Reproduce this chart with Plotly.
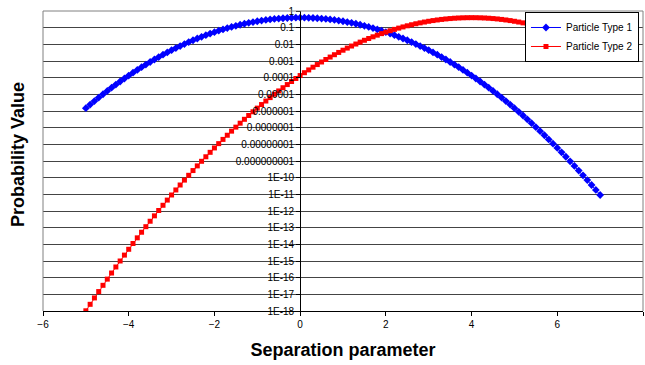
import plotly.graph_objects as go

x_vals = [
    -5.0, -4.9, -4.8, -4.7, -4.6, -4.5, -4.4, -4.3, -4.2, -4.1,
    -4.0, -3.9, -3.8, -3.7, -3.6, -3.5, -3.4, -3.3, -3.2, -3.1,
    -3.0, -2.9, -2.8, -2.7, -2.6, -2.5, -2.4, -2.3, -2.2, -2.1,
    -2.0, -1.9, -1.8, -1.7, -1.6, -1.5, -1.4, -1.3, -1.2, -1.1,
    -1.0, -0.9, -0.8, -0.7, -0.6, -0.5, -0.4, -0.3, -0.2, -0.1,
    0.0,
    0.1, 0.2, 0.3, 0.4, 0.5, 0.6, 0.7, 0.8, 0.9, 1.0,
    1.1, 1.2, 1.3, 1.4, 1.5, 1.6, 1.7, 1.8, 1.9, 2.0,
    2.1, 2.2, 2.3, 2.4, 2.5, 2.6, 2.7, 2.8, 2.9, 3.0,
    3.1, 3.2, 3.3, 3.4, 3.5, 3.6, 3.7, 3.8, 3.9, 4.0,
    4.1, 4.2, 4.3, 4.4, 4.5, 4.6, 4.7, 4.8, 4.9, 5.0,
    5.1, 5.2, 5.3, 5.4, 5.5, 5.6, 5.7, 5.8, 5.9, 6.0,
    6.1, 6.2, 6.3, 6.4, 6.5, 6.6, 6.7, 6.8, 6.9, 7.0,
]

type1_vals = [
    1.487e-6, 2.439e-6, 3.961e-6, 6.370e-6, 1.014e-5, 1.598e-5, 2.494e-5, 3.853e-5, 5.894e-5, 8.926e-5,
    1.338e-4, 1.987e-4, 2.919e-4, 4.248e-4, 6.119e-4, 8.727e-4, 1.232e-3, 1.723e-3, 2.384e-3, 3.267e-3,
    4.432e-3, 5.953e-3, 7.915e-3, 0.01042, 0.01358, 0.01753, 0.02239, 0.02833, 0.03547, 0.04398,
    0.05399, 0.06562, 0.07895, 0.09405, 0.1109, 0.1295, 0.1497, 0.1714, 0.1942, 0.2179,
    0.2420, 0.2661, 0.2897, 0.3123, 0.3332, 0.3521, 0.3683, 0.3814, 0.3910, 0.3970,
    0.3989,
    0.3970, 0.3910, 0.3814, 0.3683, 0.3521, 0.3332, 0.3123, 0.2897, 0.2661, 0.2420,
    0.2179, 0.1942, 0.1714, 0.1497, 0.1295, 0.1109, 0.09405, 0.07895, 0.06562, 0.05399,
    0.04398, 0.03547, 0.02833, 0.02239, 0.01753, 0.01358, 0.01042, 7.915e-3, 5.953e-3, 4.432e-3,
    3.267e-3, 2.384e-3, 1.723e-3, 1.232e-3, 8.727e-4, 6.119e-4, 4.248e-4, 2.919e-4, 1.987e-4, 1.338e-4,
    8.926e-5, 5.894e-5, 3.853e-5, 2.494e-5, 1.598e-5, 1.014e-5, 6.370e-6, 3.961e-6, 2.439e-6, 1.487e-6,
    8.972e-7, 5.361e-7, 3.172e-7, 1.857e-7, 1.077e-7, 6.182e-8, 3.513e-8, 1.977e-8, 1.102e-8, 6.076e-9,
    3.318e-9, 1.794e-9, 9.601e-10, 5.088e-10, 2.670e-10, 1.387e-10, 7.132e-11, 3.631e-11, 1.830e-11, 9.135e-12,
]

type2_vals = [
    1.028e-18, 2.516e-18, 6.096e-18, 1.463e-17, 3.473e-17, 8.167e-17, 1.901e-16, 4.382e-16, 9.998e-16, 2.259e-15,
    5.052e-15, 1.119e-14, 2.453e-14, 5.324e-14, 1.144e-13, 2.434e-13, 5.128e-13, 1.069e-12, 2.208e-12, 4.515e-12,
    9.135e-12, 1.830e-11, 3.631e-11, 7.132e-11, 1.387e-10, 2.670e-10, 5.088e-10, 9.601e-10, 1.794e-9, 3.318e-9,
    6.076e-9, 1.102e-8, 1.977e-8, 3.513e-8, 6.182e-8, 1.077e-7, 1.857e-7, 3.172e-7, 5.361e-7, 8.972e-7,
    1.487e-6, 2.439e-6, 3.961e-6, 6.370e-6, 1.014e-5, 1.598e-5, 2.494e-5, 3.853e-5, 5.894e-5, 8.926e-5,
    1.338e-4, 1.987e-4, 2.919e-4, 4.248e-4, 6.119e-4, 8.727e-4, 1.232e-3, 1.723e-3, 2.384e-3, 3.267e-3,
    4.432e-3, 5.953e-3, 7.915e-3, 0.01042, 0.01358, 0.01753, 0.02239, 0.02833, 0.03547, 0.04398,
    0.05399, 0.06562, 0.07895, 0.09405, 0.1109, 0.1295, 0.1497, 0.1714, 0.1942, 0.2179,
    0.2420, 0.2661, 0.2897, 0.3123, 0.3332, 0.3521, 0.3683, 0.3814, 0.3910, 0.3970,
    0.3989,
    0.3970, 0.3910, 0.3814, 0.3683, 0.3521, 0.3332, 0.3123, 0.2897, 0.2661, 0.2420,
    0.2179, 0.1942, 0.1714, 0.1497, 0.1295, 0.1109, 0.09405, 0.07895, 0.06562, 0.05399,
    0.04398, 0.03547, 0.02833, 0.02239, 0.01753, 0.01358, 0.01042, 7.915e-3, 5.953e-3, 4.432e-3,
]

y_tick_vals = [1, 0.1, 0.01, 0.001, 1e-4, 1e-5, 1e-6, 1e-7, 1e-8, 1e-9,
               1e-10, 1e-11, 1e-12, 1e-13, 1e-14, 1e-15, 1e-16, 1e-17, 1e-18]
y_tick_text = ["1", "0.1", "0.01", "0.001", "0.0001", "0.00001", "0.000001",
               "0.0000001", "0.00000001", "0.000000001", "1E-10", "1E-11",
               "1E-12", "1E-13", "1E-14", "1E-15", "1E-16", "1E-17", "1E-18"]
x_tick_vals = [-6, -4, -2, 0, 2, 4, 6, 8]

FONT = "Liberation Sans, Arial, sans-serif"

fig = go.Figure()
fig.add_trace(go.Scatter(
    x=x_vals, y=type1_vals, mode="lines+markers", name="Particle Type 1",
    line=dict(color="#0000FF", width=1),
    marker=dict(symbol="diamond", size=6, color="#0000FF"),
))
fig.add_trace(go.Scatter(
    x=x_vals, y=type2_vals, mode="lines+markers", name="Particle Type 2",
    line=dict(color="#FF0000", width=1),
    marker=dict(symbol="square", size=5, color="#FF0000"),
))

fig.update_layout(
    width=645, height=365,
    margin=dict(l=43, r=2, t=11, b=54),
    paper_bgcolor="white", plot_bgcolor="white",
    font=dict(family=FONT, color="black", size=10),
    showlegend=True,
    legend=dict(
        x=0.9933, y=0.9967, xanchor="right", yanchor="top",
        bgcolor="white", bordercolor="black", borderwidth=1,
        font=dict(size=10, family=FONT), tracegroupgap=0,
        itemwidth=30,
    ),
    xaxis=dict(
        range=[-6, 8], tickvals=x_tick_vals, ticks="outside", ticklen=4,
        tickcolor="black", showline=True, linecolor="black", linewidth=1,
        showgrid=False, zeroline=False, tickfont=dict(size=10),
        title=dict(text="<b>Separation parameter</b>", font=dict(size=18), standoff=14),
    ),
    yaxis=dict(
        type="log", range=[-18, 0], tickvals=y_tick_vals, ticktext=y_tick_text,
        anchor="free", position=6 / 14, ticks="outside", ticklen=4,
        tickcolor="black", showline=True, linecolor="black", linewidth=1,
        showgrid=True, gridcolor="#444444", gridwidth=1, zeroline=False,
        tickfont=dict(size=10),
    ),
    shapes=[
        dict(type="line", xref="paper", yref="paper", x0=0, x1=0, y0=0, y1=1,
             line=dict(color="#808080", width=1)),
        dict(type="line", xref="paper", yref="paper", x0=0, x1=1, y0=1, y1=1,
             line=dict(color="#808080", width=1)),
        dict(type="line", xref="paper", yref="paper", x0=1, x1=1, y0=0, y1=1,
             line=dict(color="#808080", width=1)),
    ],
    annotations=[
        dict(text="<b>Probability Value</b>", xref="paper", yref="paper",
             x=(18 - 43) / 600, y=(311 - 155) / 300, textangle=-90,
             showarrow=False, font=dict(size=18, family=FONT),
             xanchor="center", yanchor="middle"),
    ],
)

fig.write_html("out.html")
